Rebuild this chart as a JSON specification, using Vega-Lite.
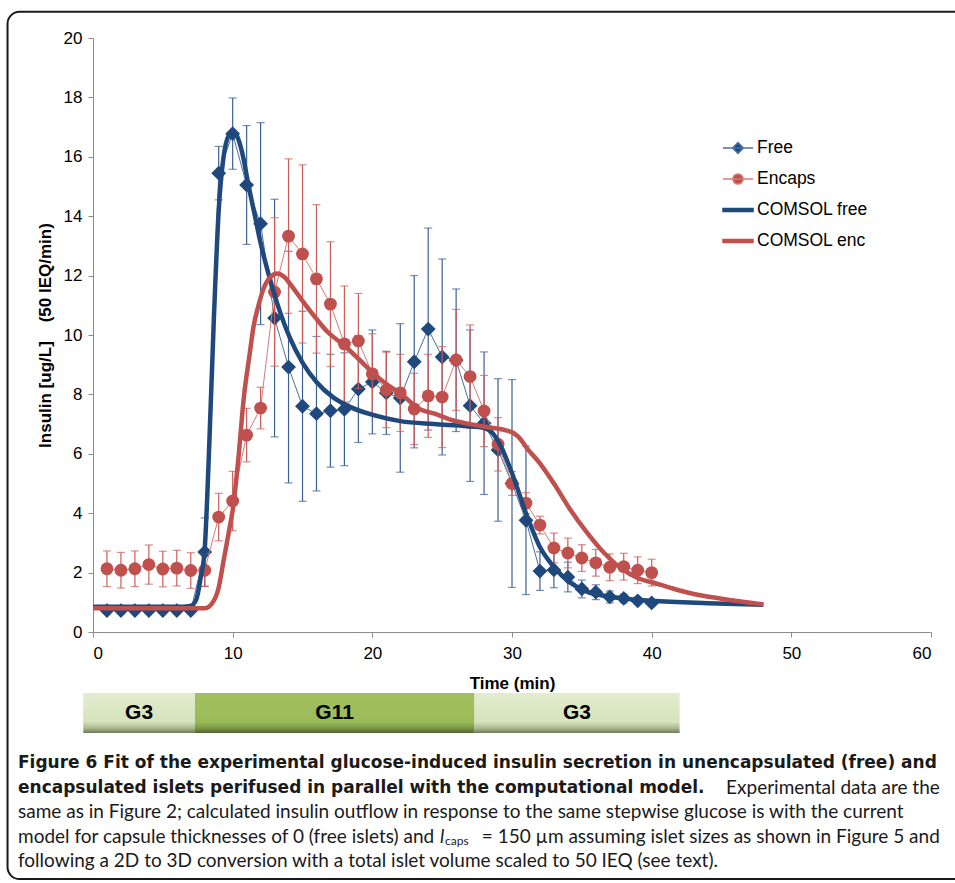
{
  "$schema": "https://vega.github.io/schema/vega-lite/v6.json",
  "width": 838,
  "height": 594,
  "autosize": {"type": "none"},
  "padding": {"left": 93, "top": 38, "right": 24, "bottom": 251},
  "background": "white",
  "config": {
    "view": {"stroke": null},
    "font": "Liberation Sans"
  },
  "datasets": {
    "obs": [
      {"series": "Free", "t": 1, "v": 0.72, "sd": 0.04},
      {"series": "Free", "t": 2, "v": 0.72, "sd": 0.04},
      {"series": "Free", "t": 3, "v": 0.72, "sd": 0.04},
      {"series": "Free", "t": 4, "v": 0.72, "sd": 0.04},
      {"series": "Free", "t": 5, "v": 0.72, "sd": 0.04},
      {"series": "Free", "t": 6, "v": 0.72, "sd": 0.04},
      {"series": "Free", "t": 7, "v": 0.72, "sd": 0.04},
      {"series": "Free", "t": 8, "v": 2.69, "sd": 1.15},
      {"series": "Free", "t": 9, "v": 15.45, "sd": 0.9},
      {"series": "Free", "t": 10, "v": 16.78, "sd": 1.2},
      {"series": "Free", "t": 11, "v": 15.05, "sd": 2.0},
      {"series": "Free", "t": 12, "v": 13.75, "sd": 3.4},
      {"series": "Free", "t": 13, "v": 10.57, "sd": 4.0},
      {"series": "Free", "t": 14, "v": 8.92, "sd": 3.9},
      {"series": "Free", "t": 15, "v": 7.6, "sd": 3.2},
      {"series": "Free", "t": 16, "v": 7.35, "sd": 2.6},
      {"series": "Free", "t": 17, "v": 7.45, "sd": 1.9},
      {"series": "Free", "t": 18, "v": 7.5, "sd": 1.9},
      {"series": "Free", "t": 19, "v": 8.18, "sd": 1.8},
      {"series": "Free", "t": 20, "v": 8.42, "sd": 1.75},
      {"series": "Free", "t": 21, "v": 8.05, "sd": 1.4},
      {"series": "Free", "t": 22, "v": 7.88, "sd": 2.5},
      {"series": "Free", "t": 23, "v": 9.1, "sd": 2.9},
      {"series": "Free", "t": 24, "v": 10.2, "sd": 3.4},
      {"series": "Free", "t": 25, "v": 9.26, "sd": 3.3},
      {"series": "Free", "t": 26, "v": 9.15, "sd": 2.4},
      {"series": "Free", "t": 27, "v": 7.62, "sd": 2.55},
      {"series": "Free", "t": 28, "v": 7.03, "sd": 2.4},
      {"series": "Free", "t": 29, "v": 6.13, "sd": 2.4},
      {"series": "Free", "t": 30, "v": 5.0, "sd": 3.5},
      {"series": "Free", "t": 31, "v": 3.76, "sd": 2.5},
      {"series": "Free", "t": 32, "v": 2.05, "sd": 0.65},
      {"series": "Free", "t": 33, "v": 2.09, "sd": 0.6},
      {"series": "Free", "t": 34, "v": 1.85, "sd": 0.5},
      {"series": "Free", "t": 35, "v": 1.45, "sd": 0.3},
      {"series": "Free", "t": 36, "v": 1.34, "sd": 0.25},
      {"series": "Free", "t": 37, "v": 1.18, "sd": 0.2},
      {"series": "Free", "t": 38, "v": 1.13, "sd": 0.15},
      {"series": "Free", "t": 39, "v": 1.05, "sd": 0.12},
      {"series": "Free", "t": 40, "v": 0.98, "sd": 0.1},
      {"series": "Encaps", "t": 1, "v": 2.13, "sd": 0.6},
      {"series": "Encaps", "t": 2, "v": 2.08, "sd": 0.6},
      {"series": "Encaps", "t": 3, "v": 2.13, "sd": 0.6},
      {"series": "Encaps", "t": 4, "v": 2.27, "sd": 0.66},
      {"series": "Encaps", "t": 5, "v": 2.12, "sd": 0.6},
      {"series": "Encaps", "t": 6, "v": 2.15, "sd": 0.6},
      {"series": "Encaps", "t": 7, "v": 2.07, "sd": 0.6},
      {"series": "Encaps", "t": 8, "v": 2.08, "sd": 0.55},
      {"series": "Encaps", "t": 9, "v": 3.87, "sd": 0.8},
      {"series": "Encaps", "t": 10, "v": 4.41, "sd": 1.0},
      {"series": "Encaps", "t": 11, "v": 6.63, "sd": 0.9},
      {"series": "Encaps", "t": 12, "v": 7.54, "sd": 0.7},
      {"series": "Encaps", "t": 13, "v": 11.45, "sd": 2.5},
      {"series": "Encaps", "t": 14, "v": 13.33, "sd": 2.6},
      {"series": "Encaps", "t": 15, "v": 12.73, "sd": 3.0},
      {"series": "Encaps", "t": 16, "v": 11.89, "sd": 2.5},
      {"series": "Encaps", "t": 17, "v": 11.04, "sd": 2.1},
      {"series": "Encaps", "t": 18, "v": 9.7, "sd": 1.95},
      {"series": "Encaps", "t": 19, "v": 9.8, "sd": 1.6},
      {"series": "Encaps", "t": 20, "v": 8.69, "sd": 1.35},
      {"series": "Encaps", "t": 21, "v": 8.15, "sd": 1.27},
      {"series": "Encaps", "t": 22, "v": 8.05, "sd": 1.3},
      {"series": "Encaps", "t": 23, "v": 7.51, "sd": 1.2},
      {"series": "Encaps", "t": 24, "v": 7.95, "sd": 1.4},
      {"series": "Encaps", "t": 25, "v": 7.91, "sd": 1.7},
      {"series": "Encaps", "t": 26, "v": 9.16, "sd": 1.7},
      {"series": "Encaps", "t": 27, "v": 8.6, "sd": 1.74},
      {"series": "Encaps", "t": 28, "v": 7.44, "sd": 1.2},
      {"series": "Encaps", "t": 29, "v": 6.32, "sd": 0.9},
      {"series": "Encaps", "t": 30, "v": 5.0, "sd": 0.4},
      {"series": "Encaps", "t": 31, "v": 4.34, "sd": 0.35},
      {"series": "Encaps", "t": 32, "v": 3.6, "sd": 0.3},
      {"series": "Encaps", "t": 33, "v": 2.83, "sd": 0.5},
      {"series": "Encaps", "t": 34, "v": 2.66, "sd": 0.5},
      {"series": "Encaps", "t": 35, "v": 2.49, "sd": 0.45},
      {"series": "Encaps", "t": 36, "v": 2.33, "sd": 0.45},
      {"series": "Encaps", "t": 37, "v": 2.18, "sd": 0.45},
      {"series": "Encaps", "t": 38, "v": 2.2, "sd": 0.45},
      {"series": "Encaps", "t": 39, "v": 2.08, "sd": 0.45},
      {"series": "Encaps", "t": 40, "v": 2.0, "sd": 0.45}
    ],
    "model": [
      {"series": "COMSOL free", "t": 0, "v": 0.85},
      {"series": "COMSOL free", "t": 6, "v": 0.85},
      {"series": "COMSOL free", "t": 7, "v": 0.88},
      {"series": "COMSOL free", "t": 7.4, "v": 1.1},
      {"series": "COMSOL free", "t": 7.7, "v": 1.8},
      {"series": "COMSOL free", "t": 8.0, "v": 2.8},
      {"series": "COMSOL free", "t": 8.3, "v": 6.0},
      {"series": "COMSOL free", "t": 8.65, "v": 10.5},
      {"series": "COMSOL free", "t": 9.0, "v": 14.2},
      {"series": "COMSOL free", "t": 9.35, "v": 16.0},
      {"series": "COMSOL free", "t": 9.7, "v": 16.7},
      {"series": "COMSOL free", "t": 10.05, "v": 16.85},
      {"series": "COMSOL free", "t": 10.4, "v": 16.6},
      {"series": "COMSOL free", "t": 10.7, "v": 16.1},
      {"series": "COMSOL free", "t": 11.15, "v": 15.0},
      {"series": "COMSOL free", "t": 11.6, "v": 14.0},
      {"series": "COMSOL free", "t": 12.0, "v": 13.1},
      {"series": "COMSOL free", "t": 12.6, "v": 12.0},
      {"series": "COMSOL free", "t": 13.2, "v": 11.05},
      {"series": "COMSOL free", "t": 14.1, "v": 9.9},
      {"series": "COMSOL free", "t": 15.0, "v": 9.07},
      {"series": "COMSOL free", "t": 16.0, "v": 8.42},
      {"series": "COMSOL free", "t": 17.2, "v": 7.9},
      {"series": "COMSOL free", "t": 18.4, "v": 7.58},
      {"series": "COMSOL free", "t": 20.1, "v": 7.3},
      {"series": "COMSOL free", "t": 22.0, "v": 7.1},
      {"series": "COMSOL free", "t": 24.4, "v": 7.0},
      {"series": "COMSOL free", "t": 26.8, "v": 6.93},
      {"series": "COMSOL free", "t": 28.0, "v": 6.87},
      {"series": "COMSOL free", "t": 28.6, "v": 6.7},
      {"series": "COMSOL free", "t": 29.2, "v": 6.25},
      {"series": "COMSOL free", "t": 30.1, "v": 5.22},
      {"series": "COMSOL free", "t": 31.0, "v": 4.0},
      {"series": "COMSOL free", "t": 32.0, "v": 2.86},
      {"series": "COMSOL free", "t": 33.0, "v": 2.19},
      {"series": "COMSOL free", "t": 34.2, "v": 1.65},
      {"series": "COMSOL free", "t": 35.4, "v": 1.35},
      {"series": "COMSOL free", "t": 36.6, "v": 1.22},
      {"series": "COMSOL free", "t": 37.8, "v": 1.14},
      {"series": "COMSOL free", "t": 40, "v": 1.05},
      {"series": "COMSOL free", "t": 44, "v": 0.97},
      {"series": "COMSOL free", "t": 48, "v": 0.92},
      {"series": "COMSOL enc", "t": 0, "v": 0.8},
      {"series": "COMSOL enc", "t": 8, "v": 0.8},
      {"series": "COMSOL enc", "t": 8.5, "v": 0.95},
      {"series": "COMSOL enc", "t": 9.0, "v": 1.5},
      {"series": "COMSOL enc", "t": 9.35, "v": 2.4},
      {"series": "COMSOL enc", "t": 9.7, "v": 3.3},
      {"series": "COMSOL enc", "t": 10.07, "v": 4.33},
      {"series": "COMSOL enc", "t": 10.4, "v": 5.8},
      {"series": "COMSOL enc", "t": 10.8, "v": 7.9},
      {"series": "COMSOL enc", "t": 11.2, "v": 9.3},
      {"series": "COMSOL enc", "t": 11.5, "v": 10.3},
      {"series": "COMSOL enc", "t": 11.85, "v": 11.0},
      {"series": "COMSOL enc", "t": 12.2, "v": 11.55},
      {"series": "COMSOL enc", "t": 12.7, "v": 11.95},
      {"series": "COMSOL enc", "t": 13.2, "v": 12.07},
      {"series": "COMSOL enc", "t": 13.7, "v": 11.95},
      {"series": "COMSOL enc", "t": 14.3, "v": 11.6},
      {"series": "COMSOL enc", "t": 15.0, "v": 11.15},
      {"series": "COMSOL enc", "t": 15.9, "v": 10.6},
      {"series": "COMSOL enc", "t": 16.8, "v": 10.1},
      {"series": "COMSOL enc", "t": 17.8, "v": 9.72},
      {"series": "COMSOL enc", "t": 19.0, "v": 9.2},
      {"series": "COMSOL enc", "t": 20.1, "v": 8.7},
      {"series": "COMSOL enc", "t": 21.0, "v": 8.35},
      {"series": "COMSOL enc", "t": 22.0, "v": 8.04},
      {"series": "COMSOL enc", "t": 23.4, "v": 7.5},
      {"series": "COMSOL enc", "t": 24.4, "v": 7.36},
      {"series": "COMSOL enc", "t": 25.8, "v": 7.12},
      {"series": "COMSOL enc", "t": 27.0, "v": 7.0},
      {"series": "COMSOL enc", "t": 28.2, "v": 6.9},
      {"series": "COMSOL enc", "t": 29.5, "v": 6.8},
      {"series": "COMSOL enc", "t": 30.1, "v": 6.7},
      {"series": "COMSOL enc", "t": 30.6, "v": 6.5},
      {"series": "COMSOL enc", "t": 31.0, "v": 6.23},
      {"series": "COMSOL enc", "t": 32.0, "v": 5.68},
      {"series": "COMSOL enc", "t": 33.0, "v": 5.0},
      {"series": "COMSOL enc", "t": 34.2, "v": 4.1},
      {"series": "COMSOL enc", "t": 35.4, "v": 3.33},
      {"series": "COMSOL enc", "t": 36.6, "v": 2.66},
      {"series": "COMSOL enc", "t": 37.8, "v": 2.15},
      {"series": "COMSOL enc", "t": 39.0, "v": 1.82},
      {"series": "COMSOL enc", "t": 40.2, "v": 1.65},
      {"series": "COMSOL enc", "t": 41.4, "v": 1.48},
      {"series": "COMSOL enc", "t": 43, "v": 1.28},
      {"series": "COMSOL enc", "t": 45, "v": 1.12},
      {"series": "COMSOL enc", "t": 48, "v": 0.93}
    ],
    "glucose": [
      {"label": "G3", "level": "low", "start": -0.7, "end": 7.3},
      {"label": "G11", "level": "high", "start": 7.3, "end": 27.3},
      {"label": "G3", "level": "low", "start": 27.3, "end": 42.0}
    ]
  },
  "layer": [
    {
      "data": {"values": [{}]},
      "mark": {"type": "rect", "fill": "transparent", "stroke": "#1a1a1a", "strokeWidth": 2, "cornerRadius": 12},
      "encoding": {
        "x": {"datum": -6.12, "type": "quantitative", "scale": {"domain": [0, 60]},
              "axis": {"values": [0, 10, 20, 30, 40, 50, 60], "title": "Time (min)", "grid": false,
                       "domainColor": "#8c8c8c", "tickColor": "#8c8c8c", "tickSize": 5,
                       "labelFont": "Liberation Sans", "labelFontSize": 17, "labelColor": "#000000", "labelPadding": 8,
                       "titleFont": "Liberation Sans", "titleFontSize": 17, "titleFontWeight": "bold", "titleColor": "#000000", "titlePadding": 14}},
        "x2": {"datum": 70},
        "y": {"datum": 20.88, "type": "quantitative", "scale": {"domain": [0, 20]},
              "axis": {"values": [0, 2, 4, 6, 8, 10, 12, 14, 16, 18, 20], "title": "Insulin [ug/L]\u00a0\u00a0\u00a0\u00a0(50 IEQ/min)", "grid": false,
                       "domainColor": "#8c8c8c", "tickColor": "#8c8c8c", "tickSize": 5,
                       "labelFont": "Liberation Sans", "labelFontSize": 17, "labelColor": "#000000", "labelPadding": 6,
                       "titleFont": "Liberation Sans", "titleFontSize": 17, "titleFontWeight": "bold", "titleColor": "#000000", "titlePadding": 9}},
        "y2": {"datum": -8.32}
      }
    },
    {
      "data": {"name": "obs"},
      "transform": [{"filter": "datum.series === 'Free'"}],
      "mark": {"type": "errorbar", "ticks": {"size": 8}, "color": "#3d6094", "thickness": 1.2},
      "encoding": {
        "x": {"field": "t", "type": "quantitative", "scale": {"domain": [0, 60]}, "title": "Time (min)"},
        "y": {"field": "v", "type": "quantitative", "scale": {"domain": [0, 20]}, "title": "Insulin [ug/L]\u00a0\u00a0\u00a0\u00a0(50 IEQ/min)"},
        "yError": {"field": "sd"}
      }
    },
    {
      "data": {"name": "obs"},
      "transform": [{"filter": "datum.series === 'Free'"}],
      "mark": {"type": "line", "strokeWidth": 1, "color": "#4a6fa5"},
      "encoding": {
        "x": {"field": "t", "type": "quantitative", "scale": {"domain": [0, 60]}, "title": "Time (min)"},
        "y": {"field": "v", "type": "quantitative", "scale": {"domain": [0, 20]}, "title": "Insulin [ug/L]\u00a0\u00a0\u00a0\u00a0(50 IEQ/min)"}
      }
    },
    {
      "data": {"name": "obs"},
      "transform": [{"filter": "datum.series === 'Free'"}],
      "mark": {"type": "point", "shape": "diamond", "filled": true, "size": 220, "opacity": 1, "color": "#1f497d"},
      "encoding": {
        "x": {"field": "t", "type": "quantitative", "scale": {"domain": [0, 60]}, "title": "Time (min)"},
        "y": {"field": "v", "type": "quantitative", "scale": {"domain": [0, 20]}, "title": "Insulin [ug/L]\u00a0\u00a0\u00a0\u00a0(50 IEQ/min)"}
      }
    },
    {
      "data": {"name": "obs"},
      "transform": [{"filter": "datum.series === 'Encaps'"}],
      "mark": {"type": "errorbar", "ticks": {"size": 8}, "color": "#cc5c59", "thickness": 1.2},
      "encoding": {
        "x": {"field": "t", "type": "quantitative", "scale": {"domain": [0, 60]}, "title": "Time (min)"},
        "y": {"field": "v", "type": "quantitative", "scale": {"domain": [0, 20]}, "title": "Insulin [ug/L]\u00a0\u00a0\u00a0\u00a0(50 IEQ/min)"},
        "yError": {"field": "sd"}
      }
    },
    {
      "data": {"name": "obs"},
      "transform": [{"filter": "datum.series === 'Encaps'"}],
      "mark": {"type": "line", "strokeWidth": 1, "color": "#d27c79"},
      "encoding": {
        "x": {"field": "t", "type": "quantitative", "scale": {"domain": [0, 60]}, "title": "Time (min)"},
        "y": {"field": "v", "type": "quantitative", "scale": {"domain": [0, 20]}, "title": "Insulin [ug/L]\u00a0\u00a0\u00a0\u00a0(50 IEQ/min)"}
      }
    },
    {
      "data": {"name": "obs"},
      "transform": [{"filter": "datum.series === 'Encaps'"}],
      "mark": {"type": "point", "shape": "circle", "filled": true, "size": 165, "opacity": 1, "color": "#c0504d"},
      "encoding": {
        "x": {"field": "t", "type": "quantitative", "scale": {"domain": [0, 60]}, "title": "Time (min)"},
        "y": {"field": "v", "type": "quantitative", "scale": {"domain": [0, 20]}, "title": "Insulin [ug/L]\u00a0\u00a0\u00a0\u00a0(50 IEQ/min)"}
      }
    },
    {
      "data": {"name": "model"},
      "transform": [{"filter": "datum.series === 'COMSOL free'"}],
      "mark": {"type": "line", "strokeWidth": 4.5, "interpolate": "monotone", "color": "#1f497d"},
      "encoding": {
        "x": {"field": "t", "type": "quantitative", "scale": {"domain": [0, 60]}, "title": "Time (min)"},
        "y": {"field": "v", "type": "quantitative", "scale": {"domain": [0, 20]}, "title": "Insulin [ug/L]\u00a0\u00a0\u00a0\u00a0(50 IEQ/min)"}
      }
    },
    {
      "data": {"name": "model"},
      "transform": [{"filter": "datum.series === 'COMSOL enc'"}],
      "mark": {"type": "line", "strokeWidth": 4.5, "interpolate": "monotone", "color": "#c0504d"},
      "encoding": {
        "x": {"field": "t", "type": "quantitative", "scale": {"domain": [0, 60]}, "title": "Time (min)"},
        "y": {"field": "v", "type": "quantitative", "scale": {"domain": [0, 20]}, "title": "Insulin [ug/L]\u00a0\u00a0\u00a0\u00a0(50 IEQ/min)"}
      }
    },
    {
      "data": {"name": "model"},
      "transform": [{"filter": "false"}],
      "mark": {"type": "point", "filled": true, "opacity": 1},
      "encoding": {
        "x": {"field": "t", "type": "quantitative", "scale": {"domain": [0, 60]}, "title": "Time (min)"},
        "y": {"field": "v", "type": "quantitative", "scale": {"domain": [0, 20]}, "title": "Insulin [ug/L]\u00a0\u00a0\u00a0\u00a0(50 IEQ/min)"},
        "color": {"field": "series", "type": "nominal",
          "scale": {"domain": ["Free", "Encaps", "COMSOL free", "COMSOL enc"], "range": ["#1f497d", "#c0504d", "#1f497d", "#c0504d"]},
          "legend": {
            "title": null, "orient": "none", "legendX": 629, "legendY": 94,
            "labelFont": "Liberation Sans", "labelFontSize": 17.5, "labelColor": "#000000",
            "symbolSize": 900, "labelOffset": 3, "rowPadding": 6, "padding": 0, "symbolOpacity": 1
          }},
        "stroke": {"field": "series", "type": "nominal",
          "scale": {"domain": ["Free", "Encaps", "COMSOL free", "COMSOL enc"], "range": ["#4a6fa5", "#d27c79", "#1f497d", "#c0504d"]},
          "legend": {"title": null}},
        "shape": {"field": "series", "type": "nominal",
          "scale": {"domain": ["Free", "Encaps", "COMSOL free", "COMSOL enc"],
                    "range": ["M-1,0H1M0,-0.36L0.36,0L0,0.36L-0.36,0Z", "M-1,0H1M-0.34,0A0.34,0.34,0,1,0,0.34,0A0.34,0.34,0,1,0,-0.34,0Z", "M-1,-0.1H1V0.1H-1Z", "M-1,-0.1H1V0.1H-1Z"]},
          "legend": {"title": null}}
      }
    },
    {
      "data": {"name": "glucose"},
      "transform": [{"filter": "datum.level === 'low'"}],
      "mark": {"type": "rect", "color": {"gradient": "linear", "x1": 0, "y1": 0, "x2": 0, "y2": 1,
        "stops": [{"offset": 0, "color": "#e3ecd0"}, {"offset": 0.72, "color": "#d6e3bc"}, {"offset": 0.88, "color": "#aab78f"}, {"offset": 1, "color": "#6f7b58"}]}},
      "encoding": {
        "x": {"field": "start", "type": "quantitative", "scale": {"domain": [0, 60]}, "title": "Time (min)"},
        "x2": {"field": "end"},
        "y": {"datum": -2.05, "type": "quantitative", "scale": {"domain": [0, 20]}},
        "y2": {"datum": -3.4}
      }
    },
    {
      "data": {"name": "glucose"},
      "transform": [{"filter": "datum.level === 'high'"}],
      "mark": {"type": "rect", "color": {"gradient": "linear", "x1": 0, "y1": 0, "x2": 0, "y2": 1,
        "stops": [{"offset": 0, "color": "#a3c061"}, {"offset": 0.72, "color": "#9bbb59"}, {"offset": 0.88, "color": "#7c9846"}, {"offset": 1, "color": "#4f6330"}]}},
      "encoding": {
        "x": {"field": "start", "type": "quantitative", "scale": {"domain": [0, 60]}, "title": "Time (min)"},
        "x2": {"field": "end"},
        "y": {"datum": -2.05, "type": "quantitative", "scale": {"domain": [0, 20]}},
        "y2": {"datum": -3.4}
      }
    },
    {
      "data": {"name": "glucose"},
      "transform": [{"calculate": "(datum.start + datum.end) / 2", "as": "mid"}],
      "mark": {"type": "text", "font": "Liberation Sans", "fontSize": 21, "fontWeight": "bold", "color": "#000000", "baseline": "middle"},
      "encoding": {
        "x": {"field": "mid", "type": "quantitative", "scale": {"domain": [0, 60]}, "title": "Time (min)"},
        "y": {"datum": -2.73, "type": "quantitative", "scale": {"domain": [0, 20]}},
        "text": {"field": "label"}
      }
    },
    {
      "data": {"values": [{}]},
      "mark": {"type": "text", "font": "DejaVu Sans", "fontSize": 17, "fontWeight": "bold", "align": "left", "baseline": "middle", "color": "#1a1a1a",
        "text": "Figure 6 Fit of the experimental glucose-induced insulin secretion in unencapsulated (free) and"},
      "encoding": {
        "x": {"datum": -5.37, "type": "quantitative", "scale": {"domain": [0, 60]}},
        "y": {"datum": -4.41, "type": "quantitative", "scale": {"domain": [0, 20]}}
      }
    },
    {
      "data": {"values": [{}]},
      "mark": {"type": "text", "font": "DejaVu Sans", "fontSize": 17, "fontWeight": "bold", "align": "left", "baseline": "middle", "color": "#1a1a1a",
        "text": "encapsulated islets perifused in parallel with the computational model."},
      "encoding": {
        "x": {"datum": -5.37, "type": "quantitative", "scale": {"domain": [0, 60]}},
        "y": {"datum": -5.25, "type": "quantitative", "scale": {"domain": [0, 20]}}
      }
    },
    {
      "data": {"values": [{}]},
      "mark": {"type": "text", "font": "Lato", "fontSize": 19, "align": "right", "baseline": "middle", "color": "#1a1a1a",
        "text": "Experimental data are the"},
      "encoding": {
        "x": {"datum": 60.63, "type": "quantitative", "scale": {"domain": [0, 60]}},
        "y": {"datum": -5.25, "type": "quantitative", "scale": {"domain": [0, 20]}}
      }
    },
    {
      "data": {"values": [{}]},
      "mark": {"type": "text", "font": "Lato", "fontSize": 19, "align": "left", "baseline": "middle", "color": "#1a1a1a",
        "text": "same as in Figure 2; calculated insulin outflow in response to the same stepwise glucose is with the current"},
      "encoding": {
        "x": {"datum": -5.37, "type": "quantitative", "scale": {"domain": [0, 60]}},
        "y": {"datum": -6.06, "type": "quantitative", "scale": {"domain": [0, 20]}}
      }
    },
    {
      "data": {"values": [{}]},
      "mark": {"type": "text", "font": "Lato", "fontSize": 19, "align": "left", "baseline": "middle", "color": "#1a1a1a",
        "text": "model for capsule thicknesses of 0 (free islets) and"},
      "encoding": {
        "x": {"datum": -5.37, "type": "quantitative", "scale": {"domain": [0, 60]}},
        "y": {"datum": -6.9, "type": "quantitative", "scale": {"domain": [0, 20]}}
      }
    },
    {
      "data": {"values": [{}]},
      "mark": {"type": "text", "font": "Lato", "fontSize": 19, "fontStyle": "italic", "align": "left", "baseline": "middle", "color": "#1a1a1a", "text": "l"},
      "encoding": {
        "x": {"datum": 24.85, "type": "quantitative", "scale": {"domain": [0, 60]}},
        "y": {"datum": -6.9, "type": "quantitative", "scale": {"domain": [0, 20]}}
      }
    },
    {
      "data": {"values": [{}]},
      "mark": {"type": "text", "font": "Lato", "fontSize": 12, "align": "left", "baseline": "middle", "color": "#1a1a1a", "text": "caps"},
      "encoding": {
        "x": {"datum": 25.2, "type": "quantitative", "scale": {"domain": [0, 60]}},
        "y": {"datum": -7.05, "type": "quantitative", "scale": {"domain": [0, 20]}}
      }
    },
    {
      "data": {"values": [{}]},
      "mark": {"type": "text", "font": "Lato", "fontSize": 19, "align": "right", "baseline": "middle", "color": "#1a1a1a",
        "text": "= 150 µm assuming islet sizes as shown in Figure 5 and"},
      "encoding": {
        "x": {"datum": 60.63, "type": "quantitative", "scale": {"domain": [0, 60]}},
        "y": {"datum": -6.9, "type": "quantitative", "scale": {"domain": [0, 20]}}
      }
    },
    {
      "data": {"values": [{}]},
      "mark": {"type": "text", "font": "Lato", "fontSize": 19, "align": "left", "baseline": "middle", "color": "#1a1a1a",
        "text": "following a 2D to 3D conversion with a total islet volume scaled to 50 IEQ (see text)."},
      "encoding": {
        "x": {"datum": -5.37, "type": "quantitative", "scale": {"domain": [0, 60]}},
        "y": {"datum": -7.71, "type": "quantitative", "scale": {"domain": [0, 20]}}
      }
    }
  ]
}
